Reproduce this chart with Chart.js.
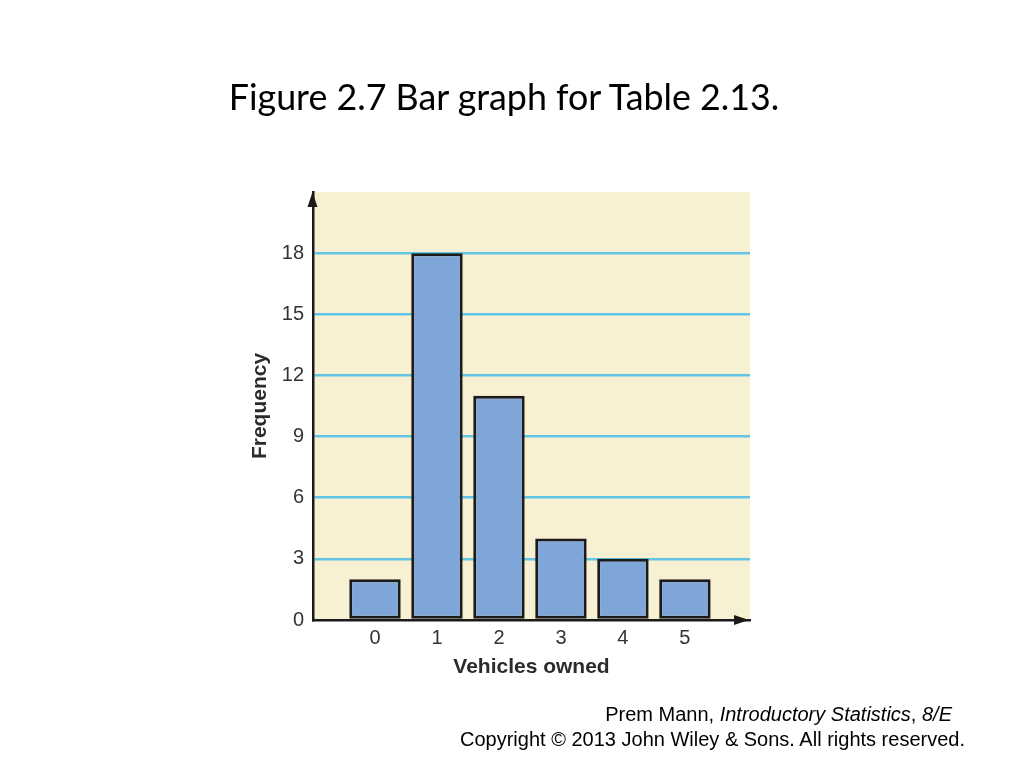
<!DOCTYPE html>
<html>
<head>
<meta charset="utf-8">
<script src="https://cdn.jsdelivr.net/npm/chart.js@4/dist/chart.umd.min.js"></script>
<style>
  body { margin: 0; background: #fff; }
  #wrap { position: relative; width: 1024px; height: 768px; }
  #titulo { position: absolute; left: 0; width: 1008px; top: 73px; text-align: center;
            font-family: Lato, "Open Sans", sans-serif; font-size: 35.8px; color: #000; line-height: 48px; }
  .pie { position: absolute; font-family: "Liberation Sans", Arial, sans-serif; font-size: 20px;
         color: #000; line-height: 24px; white-space: nowrap; }
</style>
</head>
<body>
<div id="wrap">
  <canvas id="graficaVehiculos"></canvas>
  <div id="titulo">Figure 2.7 Bar graph for Table 2.13.</div>
  <div class="pie" style="right:72px;top:702px">Prem Mann, <i>Introductory Statistics</i>, <i>8/E</i></div>
  <div class="pie" style="right:59px;top:727px">Copyright © 2013 John Wiley &amp; Sons. All rights reserved.</div>
</div>
<script>
const vehiculos = [0, 1, 2, 3, 4, 5];
const frecuencias = [2, 18, 11, 4, 3, 2];
const ticksY = [0, 3, 6, 9, 12, 15, 18];

// fondo crema del area de la grafica
const fondo = {
  id: "fondo",
  beforeDraw(chart) {
    const {ctx, chartArea: a} = chart;
    ctx.save();
    ctx.fillStyle = "#f8f0d3";
    ctx.fillRect(a.left, a.top, a.right - a.left, a.bottom - a.top);
    ctx.restore();
  }
};

// puntas de flecha en los ejes
const flechas = {
  id: "flechas",
  afterDraw(chart) {
    const {ctx, chartArea: a} = chart;
    ctx.save();
    ctx.fillStyle = "#1a1a1a";
    ctx.beginPath();
    ctx.moveTo(a.left - 0.5, a.top);
    ctx.lineTo(a.left - 5.5, a.top + 15);
    ctx.lineTo(a.left + 4.5, a.top + 15);
    ctx.closePath();
    ctx.fill();
    ctx.beginPath();
    ctx.moveTo(a.right - 1, a.bottom);
    ctx.lineTo(a.right - 16, a.bottom - 5);
    ctx.lineTo(a.right - 16, a.bottom + 5);
    ctx.closePath();
    ctx.fill();
    ctx.restore();
  }
};

new Chart("graficaVehiculos", {
  type: "bar",
  data: {
    datasets: [{
      data: vehiculos.map((v, i) => ({x: v, y: frecuencias[i]})),
      backgroundColor: "#7ea6d9",
      borderColor: "#1b1b1b",
      borderWidth: 3,
      borderSkipped: false,
      categoryPercentage: 1,
      barPercentage: 0.83
    }]
  },
  options: {
    responsive: true,
    maintainAspectRatio: false,
    animation: false,
    events: [],
    layout: { padding: { left: 240, top: 192, right: 274, bottom: 88 } },
    plugins: { legend: { display: false }, tooltip: { enabled: false } },
    scales: {
      x: {
        type: "linear",
        offset: false,
        min: -1,
        max: 6.05,
        afterBuildTicks: s => { s.ticks = vehiculos.map(v => ({value: v})); },
        afterFit: s => { s.height = 60; },
        grid: { display: false },
        border: { display: true, color: "#1a1a1a", width: 2.5 },
        ticks: {
          padding: -2,
          color: "#333",
          font: { family: "Liberation Sans", size: 20 },
          callback: v => String(v)
        },
        title: {
          display: true,
          text: "Vehicles owned",
          color: "#2b2b2b",
          font: { family: "Liberation Sans", size: 21, weight: "bold" },
          padding: { top: 0, bottom: 0 }
        }
      },
      y: {
        min: 0,
        max: 21,
        afterBuildTicks: s => { s.ticks = ticksY.map(v => ({value: v})); },
        afterFit: s => { s.width = 73; },
        grid: {
          drawTicks: false,
          lineWidth: 2.5,
          color: c => (c.tick && c.tick.value === 0) ? "rgba(0,0,0,0)" : "#62c5e3"
        },
        border: { display: true, color: "#1a1a1a", width: 2.5 },
        ticks: {
          padding: 9,
          color: "#333",
          font: { family: "Liberation Sans", size: 20 }
        },
        title: {
          display: true,
          text: "Frequency",
          color: "#2b2b2b",
          font: { family: "Liberation Sans", size: 21, weight: "bold" },
          padding: { top: 8, bottom: 0 }
        }
      }
    }
  },
  plugins: [fondo, flechas]
});
</script>
</body>
</html>
